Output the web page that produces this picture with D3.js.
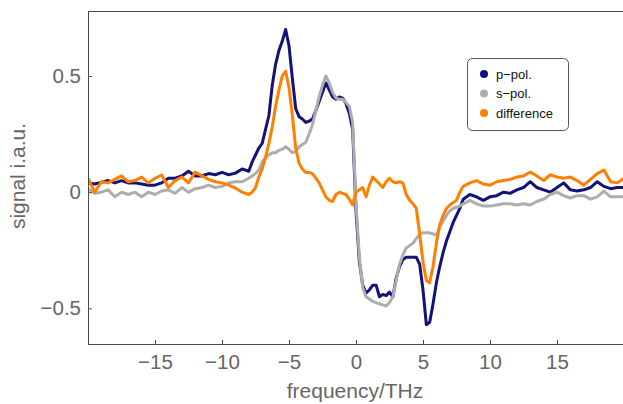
<!DOCTYPE html>
<html><head><meta charset="utf-8">
<script src="https://cdn.jsdelivr.net/npm/d3@7"></script>
<style>html,body{margin:0;padding:0;background:#fff;}svg{display:block;}</style>
</head><body>
<script>
const freq = [-20,-19.5,-19,-18.5,-18,-17.5,-17,-16.5,-16,-15.5,-15,-14.5,-14,-13.5,-13,-12.5,-12,-11.5,-11,-10.5,-10,-9.5,-9,-8.5,-8,
-7.75,-7.5,-7.25,-7,-6.75,-6.5,-6.25,-6,-5.75,-5.5,-5.25,-5,-4.75,-4.5,-4.25,-4,-3.75,-3.5,-3.25,-3,-2.75,-2.5,-2.25,-2,-1.75,-1.5,-1.25,-1,-0.75,-0.5,-0.25,
0,0.25,0.5,0.75,1,1.25,1.5,1.75,2,2.25,2.5,2.75,3,3.25,3.5,3.75,4,4.25,4.5,4.75,5,5.25,5.5,5.75,6,6.25,6.5,6.75,7,7.25,7.5,7.75,8,
8.5,9,9.5,10,10.5,11,11.5,12,12.5,13,13.5,14,14.5,15,15.5,16,16.5,17,17.5,18,18.5,19,19.5,20];

const pPol = [.04,.035,.042,.05,.04,.05,.04,.04,.035,.03,.03,.04,.06,.06,.07,.09,.07,.07,.08,.075,.085,.075,.082,.1,.09,
.13,.16,.19,.21,.27,.33,.46,.55,.61,.65,.70,.63,.49,.36,.325,.315,.30,.305,.315,.35,.39,.43,.47,.44,.41,.40,.41,.405,.38,.34,.27,
-.08,-.30,-.40,-.435,-.42,-.40,-.40,-.45,-.44,-.445,-.43,-.45,-.37,-.32,-.29,-.28,-.28,-.28,-.28,-.31,-.42,-.57,-.56,-.48,-.39,-.32,-.26,-.21,-.17,-.13,-.10,-.07,-.03,
-.01,-.02,-.035,-.02,-.015,0,-.005,.01,.02,.045,.02,.01,0,.02,.04,.01,.005,.01,.02,.045,.025,.015,.02,.02];

const sPol = [.015,-.005,0,.01,-.02,0,-.01,0,-.02,0,-.01,.005,.01,-.005,.02,0,.015,.02,.03,.02,.025,.04,.045,.045,.06,
.07,.08,.095,.13,.15,.16,.17,.17,.18,.185,.195,.185,.17,.175,.195,.205,.215,.25,.29,.35,.41,.46,.50,.47,.43,.405,.40,.40,.385,.37,.30,
-.05,-.28,-.41,-.45,-.46,-.47,-.475,-.48,-.485,-.49,-.475,-.45,-.38,-.31,-.27,-.24,-.23,-.22,-.20,-.18,-.175,-.175,-.175,-.18,-.185,-.15,-.125,-.10,-.08,-.07,-.065,-.06,-.05,
-.035,-.05,-.06,-.06,-.055,-.05,-.05,-.055,-.05,-.055,-.04,-.03,-.01,0,-.015,-.025,-.015,-.015,-.03,-.02,.005,-.02,-.02,-.02];

const diff = [.06,0,.045,.04,.055,.07,.045,.05,.065,.04,.06,.074,.02,.05,.065,.04,.087,.07,.055,.045,.04,.03,.018,0,-.01,
0,.02,.065,.1,.15,.21,.28,.37,.44,.50,.52,.45,.33,.19,.125,.1,.085,.085,.08,.06,.04,.01,-.02,-.035,-.04,-.01,0,-.005,-.01,-.03,-.055,
0,.01,.02,-.02,.03,.065,.05,.035,.02,.045,.06,.045,.04,.045,.04,-.01,-.035,-.05,-.07,-.18,-.30,-.38,-.39,-.32,-.22,-.14,-.1,-.07,-.055,-.045,-.035,0,.025,
.04,.05,.035,.03,.045,.05,.055,.065,.07,.087,.07,.05,.075,.065,.06,.065,.05,.03,.055,.08,.095,.045,.04,.06];

const seriesNames = ["p\u2212pol.", "s\u2212pol.", "difference"];
const seriesColors = ["#12127a", "#adadad", "#ff8000"];
const xTicks = [-15,-10,-5,0,5,10,15];
const yTicks = [-0.5,0,0.5];

const W = 623, H = 404;
const svg = d3.select("body").append("svg").attr("width", W).attr("height", H);

const x = d3.scaleLinear().domain([-20, 20]).range([88, 624]);
const y = d3.scaleLinear().domain([-0.655, 0.78]).range([344.4, 10.9]);

const fmt = v => (v < 0 ? "\u2212" : "") + (v === 0 ? "0" : String(Math.abs(v)));

svg.append("clipPath").attr("id","clip").append("rect")
  .attr("x", 88).attr("y", 11).attr("width", W - 88).attr("height", 333);

const line = d3.line().x((d,i)=>x(freq[i])).y(d=>y(d));
const g = svg.append("g").attr("clip-path","url(#clip)");
[pPol, sPol, diff].forEach((s, k) => {
  g.append("path").datum(s).attr("d", line).attr("fill","none")
    .attr("stroke", seriesColors[k]).attr("stroke-width", 3)
    .attr("stroke-linejoin","round").attr("stroke-linecap","round");
});

const axisColor = "#4a4a4a";
const labelColor = "#666";
const xAxis = d3.axisBottom(x).tickValues(xTicks).tickSizeInner(-4).tickSizeOuter(0).tickPadding(10).tickFormat(fmt);
const gx = svg.append("g").attr("transform","translate(0,344)").call(xAxis);
gx.select(".domain").attr("stroke", axisColor);
gx.selectAll(".tick line").attr("stroke", axisColor);
gx.selectAll("text").attr("fill", labelColor).attr("font-family","Liberation Sans, Arial, sans-serif").attr("font-size", 20.5);
const yAxis = d3.axisLeft(y).tickValues(yTicks).tickSizeInner(-4).tickSizeOuter(0).tickPadding(7).tickFormat(fmt);
const gy = svg.append("g").attr("transform","translate(88,0)").call(yAxis);
gy.select(".domain").attr("stroke", axisColor);
gy.selectAll(".tick line").attr("stroke", axisColor);
gy.selectAll("text").attr("fill", labelColor).attr("font-family","Liberation Sans, Arial, sans-serif").attr("font-size", 20.5);
svg.append("line").attr("x1",88).attr("x2",W).attr("y1",11.5).attr("y2",11.5).attr("stroke",axisColor);

svg.append("text").attr("x", 355).attr("y", 398).attr("text-anchor","middle")
  .attr("fill", labelColor).attr("font-family","Liberation Sans, Arial, sans-serif").attr("font-size", 21)
  .text("frequency/THz");
svg.append("text").attr("transform","translate(25,176) rotate(-90)").attr("text-anchor","middle")
  .attr("fill", labelColor).attr("font-family","Liberation Sans, Arial, sans-serif").attr("font-size", 21)
  .text("signal i.a.u.");

const lg = svg.append("g");
lg.append("rect").attr("x", 467.5).attr("y", 58.5).attr("width", 101).attr("height", 72).attr("rx", 5)
  .attr("fill","#fff").attr("stroke","#555").attr("stroke-width",1);
seriesNames.forEach((n, k) => {
  const cy = 74 + k * 19.5;
  lg.append("circle").attr("cx", 484).attr("cy", cy).attr("r", 4).attr("fill", seriesColors[k]);
  lg.append("text").attr("x", 496).attr("y", cy).attr("dy","0.35em")
    .attr("font-family","Liberation Sans, Arial, sans-serif").attr("font-size", 13).attr("fill","#111").text(n);
});
</script>
</body></html>
